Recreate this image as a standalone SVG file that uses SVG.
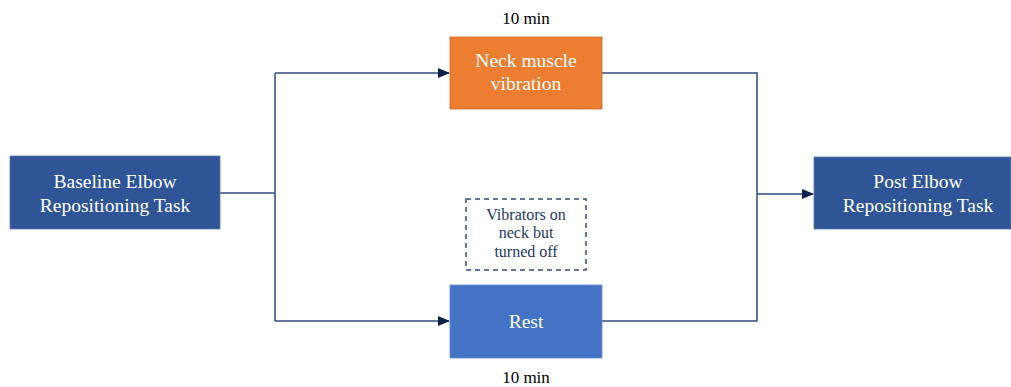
<svg xmlns="http://www.w3.org/2000/svg" width="1011" height="387" viewBox="0 0 1011 387">
<style>
text{font-family:"Liberation Serif","Times New Roman",serif;text-anchor:middle}
.w{fill:#fff;font-size:19.5px}
.t{fill:#000;font-size:17px}
.d{fill:#1f3864;font-size:16px}
.c{fill:none;stroke:#2f4a80;stroke-width:1.5}
</style>
<defs>
<marker id="a" markerWidth="12" markerHeight="10" refX="11" refY="5" orient="auto" markerUnits="userSpaceOnUse">
<path d="M0,0 L12,5 L0,10 Z" fill="#0d1f4f"/>
</marker>
</defs>
<rect width="1011" height="387" fill="#fff"/>
<g id="connectors">
<path class="c" d="M220,193 H275"/>
<path class="c" d="M275,73 V321"/>
<path class="c" d="M275,73 H449" marker-end="url(#a)"/>
<path class="c" d="M275,321 H449" marker-end="url(#a)"/>
<path class="c" d="M602,73 H757 V321 H602"/>
<path class="c" d="M757,194 H813" marker-end="url(#a)"/>
</g>
<g id="baseline">
<rect x="10" y="156" width="210" height="73" fill="#2f5597" stroke="#5a7bb5" stroke-width="0.8"/>
<text class="w" x="115" y="188">Baseline Elbow</text>
<text class="w" x="115" y="212">Repositioning Task</text>
</g>
<g id="neck">
<text class="t" x="526" y="24">10 min</text>
<rect x="450" y="37" width="152" height="72" fill="#ed7d31" stroke="#d2692a" stroke-width="0.8"/>
<text class="w" x="526" y="67">Neck muscle</text>
<text class="w" x="526" y="90">vibration</text>
</g>
<g id="vibrators">
<rect x="466" y="199" width="120" height="71" fill="none" stroke="#2f4a80" stroke-width="1.5" stroke-dasharray="5,4"/>
<text class="d" x="526" y="220">Vibrators on</text>
<text class="d" x="526" y="238">neck but</text>
<text class="d" x="526" y="257">turned off</text>
</g>
<g id="rest">
<rect x="450" y="285" width="152" height="73" fill="#4472c4" stroke="#6a8fd0" stroke-width="0.8"/>
<text class="w" x="526" y="328">Rest</text>
<text class="t" x="526" y="383">10 min</text>
</g>
<g id="post">
<rect x="814" y="157" width="197" height="72" fill="#2f5597" stroke="#5a7bb5" stroke-width="0.8"/>
<text class="w" x="918" y="188">Post Elbow</text>
<text class="w" x="918" y="212">Repositioning Task</text>
</g>
</svg>
